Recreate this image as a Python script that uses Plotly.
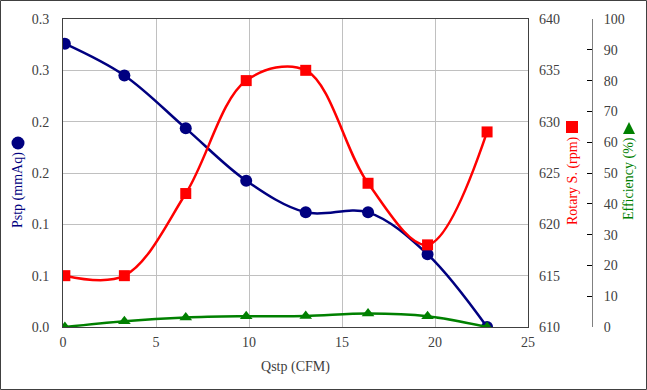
import plotly.graph_objects as go

# ---- data ----
qstp = [0.1, 3.3, 6.6, 9.85, 13.05, 16.4, 19.6, 22.8]
pstp = [0.276, 0.245, 0.1935, 0.1425, 0.1117, 0.1117, 0.0708, 0.0]
rpm = [615, 615, 623, 634, 635, 624, 618, 629]
eff = [0.0, 1.9, 3.1, 3.5, 3.6, 4.4, 3.5, 0.0]

x_ticks = [0, 5, 10, 15, 20, 25]
p_tickvals = [0.0, 0.05, 0.10, 0.15, 0.20, 0.25, 0.30]
p_ticktext = ["0.0", "0.1", "0.1", "0.2", "0.2", "0.3", "0.3"]
rpm_ticks = [610, 615, 620, 625, 630, 635, 640]
eff_ticks = [0, 10, 20, 30, 40, 50, 60, 70, 80, 90, 100]

NAVY = "#000080"
RED = "#FF0000"
GREEN = "#008000"
TXT = "#404040"
FONT = "Liberation Serif"

W, H = 647, 390
L, R, T, B = 63, 20, 19, 63
PW = W - L - R
PH = H - T - B
PLOT_R = 528


def px(xp):
    return (xp - L) / PW


def py(yp):
    return (H - B - yp) / PH


fig = go.Figure()
fig.add_trace(go.Scatter(x=qstp, y=pstp, mode="lines+markers", yaxis="y",
                         line=dict(color=NAVY, width=2.5, shape="spline"),
                         marker=dict(symbol="circle", size=12, color=NAVY)))
fig.add_trace(go.Scatter(x=qstp, y=rpm, mode="lines+markers", yaxis="y2",
                         line=dict(color=RED, width=2.5, shape="spline"),
                         marker=dict(symbol="square", size=11, color=RED)))
fig.add_trace(go.Scatter(x=qstp, y=eff, mode="lines+markers", yaxis="y3",
                         line=dict(color=GREEN, width=2.5, shape="spline"),
                         marker=dict(symbol="triangle-up", size=11, color=GREEN)))

tickfont = dict(family=FONT, size=14, color=TXT)

fig.update_layout(
    width=W, height=H,
    margin=dict(l=L, r=R, t=T, b=B),
    paper_bgcolor="white", plot_bgcolor="white",
    showlegend=False,
    font=dict(family=FONT, size=14, color=TXT),
    xaxis=dict(domain=[0, px(PLOT_R)], range=[0, 25], tickvals=x_ticks,
               showgrid=True, gridcolor="#C0C0C0", gridwidth=1,
               showline=True, linecolor="#404040", linewidth=1, mirror=True,
               ticks="", tickfont=tickfont, zeroline=False, ticklabelstandoff=2,
               title=dict(text="Qstp (CFM)", font=dict(family=FONT, size=14, color=TXT), standoff=12)),
    yaxis=dict(range=[0, 0.3], tickvals=p_tickvals, ticktext=p_ticktext,
               showgrid=True, gridcolor="#C0C0C0", gridwidth=1,
               showline=True, linecolor="#404040", linewidth=1, mirror=True,
               ticks="", tickfont=tickfont, zeroline=False, ticklabelstandoff=10),
    yaxis2=dict(range=[610, 640], tickvals=rpm_ticks, overlaying="y", side="right",
                anchor="x", showgrid=False, showline=False, zeroline=False,
                ticks="", tickfont=tickfont, ticklabelstandoff=10),
    yaxis3=dict(range=[0, 100], tickvals=eff_ticks, overlaying="y", side="right",
                anchor="free", position=px(592), showgrid=False, zeroline=False,
                showline=True, linecolor="#808080", linewidth=1,
                ticks="inside", ticklen=5, tickcolor="#000000", tickwidth=1,
                tickfont=tickfont, ticklabelstandoff=8),
)

# axis titles as annotations
for xp, yp, txt, col in [(18, 190, "Pstp (mmAq)", NAVY),
                         (573, 181, "Rotary S. (rpm)", RED),
                         (629, 179, "Efficiency (%)", GREEN)]:
    fig.add_annotation(xref="paper", yref="paper", x=px(xp), y=py(yp), text=txt,
                       xanchor="center", yanchor="middle",
                       textangle=-90, showarrow=False, font=dict(family=FONT, size=14, color=col))

# legend-like symbols next to titles
fig.add_shape(type="circle", xref="paper", yref="paper", xsizemode="pixel", ysizemode="pixel",
              xanchor=px(18), yanchor=py(143), x0=-6.5, x1=6.5, y0=-6.5, y1=6.5,
              fillcolor=NAVY, line=dict(width=0))
fig.add_shape(type="rect", xref="paper", yref="paper", xsizemode="pixel", ysizemode="pixel",
              xanchor=px(572), yanchor=py(127), x0=-6, x1=6, y0=-6, y1=6,
              fillcolor=RED, line=dict(width=0))
fig.add_shape(type="path", xref="paper", yref="paper", xsizemode="pixel", ysizemode="pixel",
              xanchor=px(629), yanchor=py(128), path="M -6,-6 L 6,-6 L 0,6 Z",
              fillcolor=GREEN, line=dict(width=0))

# outer chart border
fig.add_shape(type="rect", xref="paper", yref="paper",
              x0=px(0.5), x1=px(W - 0.5), y0=py(H - 0.5), y1=py(0.5),
              line=dict(color="#404040", width=1), fillcolor="rgba(0,0,0,0)", layer="below")

fig.write_html("out.html", config={"displayModeBar": False},
               post_script="document.body.style.margin='0px';document.body.style.overflow='hidden';")
